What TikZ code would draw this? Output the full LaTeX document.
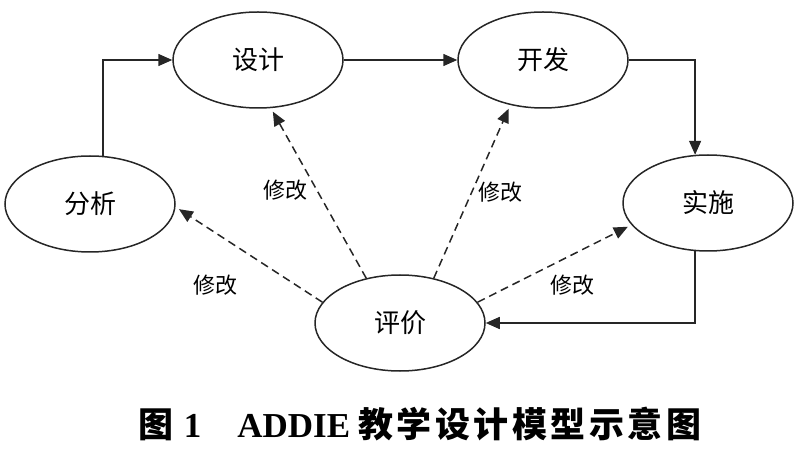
\documentclass[tikz,border=0pt]{standalone}
\usepackage{fontspec}
\setmainfont{Liberation Serif}
\newfontfamily\cjk{Noto Sans CJK SC}
\usetikzlibrary{arrows.meta,shapes.geometric}
\definecolor{linegray}{HTML}{262626}

\begin{document}
\begin{tikzpicture}[x=1pt,y=-1pt,
  stage/.style={ellipse,draw=linegray,line width=1.5pt,minimum width=170pt,
    minimum height=96pt,inner sep=0pt,font=\cjk\fontsize{26}{30}\selectfont},
  flow/.style={-{Triangle[length=14pt,width=12pt]},line width=1.5pt,draw=linegray},
  revise/.style={flow,dash pattern=on 8pt off 5pt,shorten >=4pt},
  note/.style={font=\cjk\fontsize{22}{26}\selectfont}]
\useasboundingbox (0,0) rectangle (800,462);
\node[stage] (fx) at (90,204) {分析};
\node[stage] (sj) at (258,60) {设计};
\node[stage] (kf) at (543,60) {开发};
\node[stage] (ss) at (708,203) {实施};
\node[stage] (pj) at (400,323) {评价};
\node[note] (m1) at (215,285) {修改};
\node[note] (m2) at (285,190) {修改};
\node[note] (m3) at (500,192) {修改};
\node[note] (m4) at (572,285) {修改};
\node[font=\fontsize{35}{40}\selectfont\bfseries] (cap) at (420,424)
  {{\cjk\bfseries 图}\hspace{10pt}1\hspace{36pt}ADDIE\hspace{8pt}{\cjk\bfseries\addfontfeature{LetterSpace=10}教学设计模型示意图}};
\draw[flow] (fx.75) |- (sj.west);
\draw[flow] (sj) -- (kf);
\draw[flow] (kf.east) -| (ss.105);
\draw[flow] (ss.255) |- (pj.east);
\draw[revise] (pj.165) -- (fx.-2);
\draw[revise] (pj.127) -- (sj.-75);
\draw[revise] (pj.53) -- (kf.234);
\draw[revise] (pj.15) -- (ss.196);
\end{tikzpicture}
\end{document}
